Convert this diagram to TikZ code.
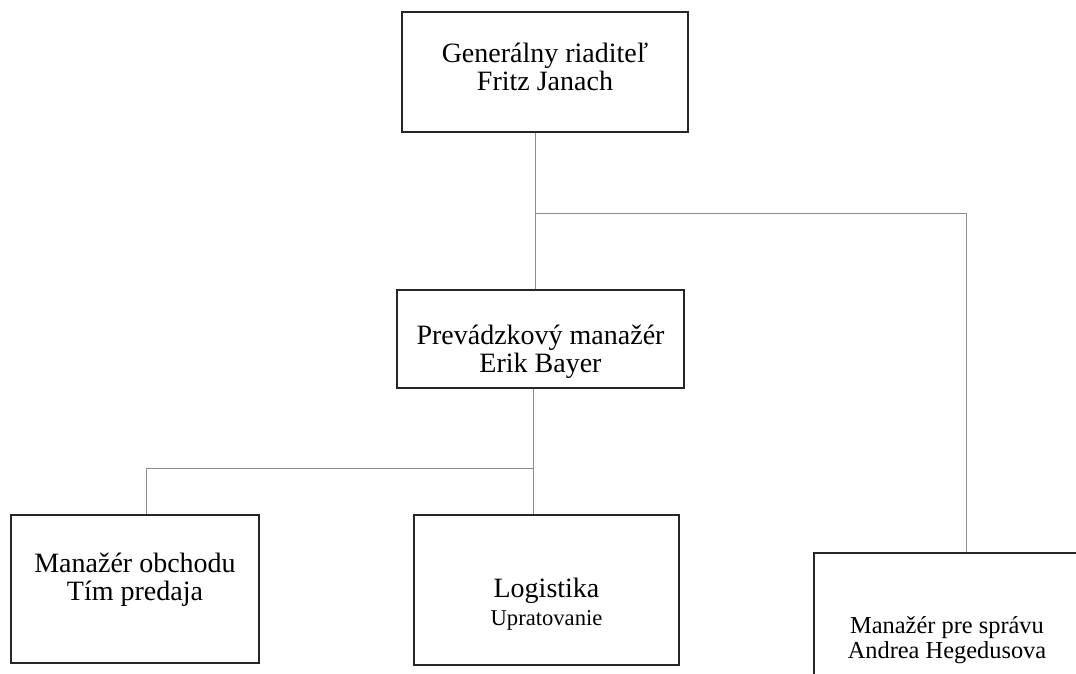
\documentclass[tikz,border=0pt]{standalone}
\usepackage{fontspec}
\setmainfont{Liberation Serif}
\usepackage{tikz}
\usetikzlibrary{positioning}
\newcommand{\boxfont}{\fontsize{14}{14}\selectfont}
\newcommand{\smlfont}{\fontsize{12.2}{12.5}\selectfont}

\begin{document}
\begin{tikzpicture}[x=0.5pt,y=-0.5pt,
  box/.style={draw=black!85,line width=0.7pt,align=center,font=\boxfont,inner sep=0pt},
  tpos/.style 2 args={text height=#1,text depth=#2},
  conn/.style={draw=black!45,line width=0.4pt}]
  \clip (0,0) rectangle (1076,674);

  \node[box,tpos={28pt}{9.5pt},minimum width=143pt,minimum height=60pt] (gr) at (545,72) {Generálny riaditeľ\\Fritz Janach};
  \node[box,tpos={40pt}{6.5pt},minimum width=143.5pt,minimum height=49pt] (pm) at (540.5,339) {Prevádzkový manažér\\Erik Bayer};

  \node[box,tpos={20pt}{8.5pt},minimum width=124pt,minimum height=74pt] (mo) at (135,589) {Manažér obchodu\\Tím predaja};
  \node[box,tpos={42pt}{6.5pt},minimum width=132.5pt,minimum height=75pt] (lg) at (546.5,590) {Logistika\\{\fontsize{11.3}{12.5}\selectfont Upratovanie}};
  \node[box,font=\smlfont,tpos={30pt}{8.4pt},minimum width=133pt,minimum height=84pt] (ms) at (947,637) {Manažér pre správu\\Andrea Hegedusova};

  \coordinate (j1) at (535,213);
  \coordinate (j2) at (966,213);
  \coordinate (j3) at (533,468);
  \coordinate (j4) at (146,468);

  \draw[conn] (j1 |- gr.south) -- (j1 |- pm.north);
  \draw[conn] (j1) -- (j2) -- (j2 |- ms.north);

  \draw[conn] (j3 |- pm.south) -- (j3 |- lg.north);
  \draw[conn] (j3) -- (j4) -- (j4 |- mo.north);
\end{tikzpicture}
\end{document}
